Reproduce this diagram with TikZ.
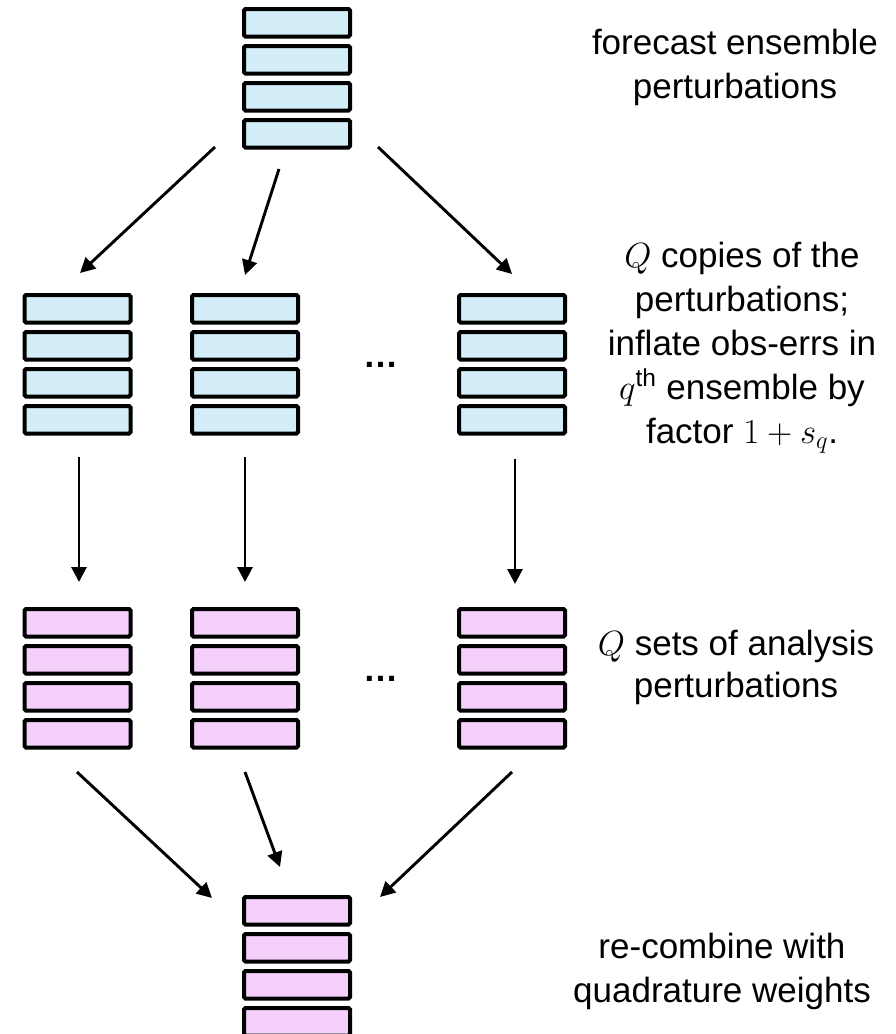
\RequirePackage{fix-cm}
\documentclass[tikz,border=0pt]{standalone}
\usepackage{fontspec}
\setmainfont{Liberation Sans}
\usetikzlibrary{arrows.meta}

\definecolor{ensblue}{HTML}{D4EEF9}
\definecolor{enspink}{HTML}{F4D0FB}

\tikzset{
  member/.style={draw=black, line width=4pt, rounded corners=1.5pt,
    minimum width=106pt, minimum height=27.5pt, inner sep=0pt, outer sep=0pt},
  fcmember/.style={member, fill=ensblue},
  anmember/.style={member, fill=enspink},
  flow/.style={line width=2.9pt, -{Triangle[length=15pt,width=15pt]}},
  % multi-line captions are placed by the baseline of their last line
  caption/.style={align=center, anchor=base, inner sep=0pt,
    font=\fontsize{35}{44}\selectfont},
  gap/.style={anchor=base, inner sep=0pt, font=\fontsize{35}{44}\selectfont\bfseries},
}

% one ensemble: four stacked members; #1 name, #2 centre x, #3 top y, #4 style
\newcommand\ensstack[4]{%
  \foreach \k in {1,...,4}{
    \node[#4] (#1-\k) at (#2, {#3 + 15.75 + 37*(\k-1)}) {};
  }%
}

\begin{document}
\begin{tikzpicture}[x=1pt, y=-1pt]
\useasboundingbox (0,0) rectangle (896,1034);

% forecast ensemble
\ensstack{fc}{297}{7}{fcmember}

% Q copies of the forecast perturbations
\ensstack{fa}{77.5}{293}{fcmember}
\ensstack{fb}{245}{293}{fcmember}
\ensstack{fq}{512}{293}{fcmember}
\node[gap] (fdots) at (381,367) {…};

% Q analysis ensembles
\ensstack{aa}{77.5}{607}{anmember}
\ensstack{ab}{245}{607}{anmember}
\ensstack{aq}{512}{607}{anmember}
\node[gap] (adots) at (381,681) {…};

% recombined analysis
\ensstack{ra}{297}{895}{anmember}

% arrow end points
\coordinate (s1) at (215,147);  \coordinate (e1) at (80,273);
\coordinate (s2) at (279,169);  \coordinate (e2) at (245,275);
\coordinate (s3) at (378,147);  \coordinate (e3) at (512,274);
\coordinate (u1) at (79,457);   \coordinate (d1) at (79,582);
\coordinate (u2) at (245,457);  \coordinate (d2) at (245,582);
\coordinate (u3) at (515,459);  \coordinate (d3) at (515,584);
\coordinate (t1) at (77,772);   \coordinate (r1) at (212,898);
\coordinate (t2) at (245,772);  \coordinate (r2) at (280,867);
\coordinate (t3) at (512,772);  \coordinate (r3) at (380,897);

\draw[flow] (s1) -- (e1);
\draw[flow] (s2) -- (e2);
\draw[flow] (s3) -- (e3);
\draw[flow] (u1) -- (d1);
\draw[flow] (u2) -- (d2);
\draw[flow] (u3) -- (d3);
\draw[flow] (t1) -- (r1);
\draw[flow] (t2) -- (r2);
\draw[flow] (t3) -- (r3);

% captions
\node[caption] (c1) at (735,98) {forecast ensemble\\perturbations};
\node[caption] (c2) at (742,443) {$Q$ copies of the\\perturbations;\\inflate obs-errs in\\$q$\textsuperscript{th} ensemble by\\factor $1+s_q$.};
\node[caption] (c3) at (736,697) {$Q$ sets of analysis\\[-2pt]perturbations};
\node[caption] (c4) at (722,1002) {re-combine with\\quadrature weights};
\end{tikzpicture}
\end{document}
